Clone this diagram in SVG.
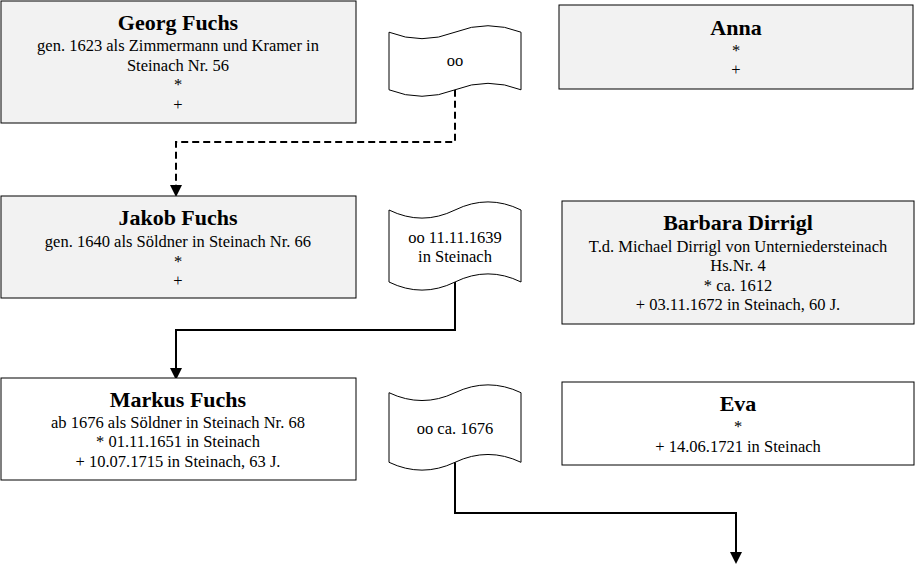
<svg xmlns="http://www.w3.org/2000/svg" width="916" height="575" viewBox="0 0 916 575">
<style>
.box{stroke:#000;stroke-width:1}
.g{fill:#f2f2f2}
.w{fill:#fff}
.flag{fill:#fff;stroke:#000;stroke-width:1}
text{font-family:"Liberation Serif","Times New Roman",serif;fill:#000;text-anchor:middle}
.n{font-size:22px;font-weight:bold}
.t{font-size:16.5px}
.c{fill:none;stroke:#000;stroke-width:2}
.d{stroke-dasharray:7 4}
</style>
<defs>
<marker id="arr" markerUnits="userSpaceOnUse" markerWidth="12" markerHeight="12" refX="0" refY="5" orient="auto" viewBox="0 0 10 10">
<path d="M0,0 L10,5 L0,10 Z" fill="#000"/>
</marker>
</defs>
<rect width="916" height="575" fill="#fff"/>
<g id="connectors">
<path class="c d" d="M455,89.8 V142 H176 V185" marker-end="url(#arr)"/>
<path class="c" d="M455,282 V330 H176 V368" marker-end="url(#arr)"/>
<path class="c" d="M455,462.3 V513 H736 V552" marker-end="url(#arr)"/>
</g>
<g id="georg">
<rect class="box g" x="1" y="1" width="355" height="122"/>
<text class="n" x="178" y="30">Georg Fuchs</text>
<text class="t" x="178" y="51">gen. 1623 als Zimmermann und Kramer in</text>
<text class="t" x="178" y="71">Steinach Nr. 56</text>
<text class="t" x="178" y="90">*</text>
<text class="t" x="178" y="110">+</text>
</g>
<g id="marriage1">
<path class="flag" d="M389,32.2 Q422,45.16 455,32.2 Q488,19.24 521,32.2 L521,89.8 Q488,76.84 455,89.8 Q422,102.76 389,89.8 Z"/>
<text class="t" x="455" y="66">oo</text>
</g>
<g id="anna">
<rect class="box g" x="559" y="5" width="354" height="84"/>
<text class="n" x="736" y="35">Anna</text>
<text class="t" x="736" y="55.5">*</text>
<text class="t" x="736" y="75">+</text>
</g>
<g id="jakob">
<rect class="box g" x="1" y="196" width="355" height="102"/>
<text class="n" x="178" y="225">Jakob Fuchs</text>
<text class="t" x="178" y="247">gen. 1640 als Söldner in Steinach Nr. 66</text>
<text class="t" x="178" y="266.5">*</text>
<text class="t" x="178" y="286">+</text>
</g>
<g id="marriage2">
<path class="flag" d="M389,210 Q422,226.2 455,210 Q488,193.8 521,210 L521,282 Q488,265.8 455,282 Q422,298.2 389,282 Z"/>
<text class="t" x="455" y="243">oo 11.11.1639</text>
<text class="t" x="455" y="262">in Steinach</text>
</g>
<g id="barbara">
<rect class="box g" x="562" y="201" width="352" height="123"/>
<text class="n" x="738" y="230">Barbara Dirrigl</text>
<text class="t" x="738" y="251.5">T.d. Michael Dirrigl von Unterniedersteinach</text>
<text class="t" x="738" y="271">Hs.Nr. 4</text>
<text class="t" x="738" y="290.5">* ca. 1612</text>
<text class="t" x="738" y="310">+ 03.11.1672 in Steinach, 60 J.</text>
</g>
<g id="markus">
<rect class="box w" x="1" y="378" width="355" height="102"/>
<text class="n" x="178" y="406.5">Markus Fuchs</text>
<text class="t" x="178" y="427.5">ab 1676 als Söldner in Steinach Nr. 68</text>
<text class="t" x="178" y="447">* 01.11.1651 in Steinach</text>
<text class="t" x="178" y="466.5">+ 10.07.1715 in Steinach, 63 J.</text>
</g>
<g id="marriage3">
<path class="flag" d="M389,392.7 Q422,408.36 455,392.7 Q488,377.04 521,392.7 L521,462.3 Q488,446.64 455,462.3 Q422,477.96 389,462.3 Z"/>
<text class="t" x="455" y="434">oo ca. 1676</text>
</g>
<g id="eva">
<rect class="box w" x="562" y="382" width="352" height="83"/>
<text class="n" x="738" y="411">Eva</text>
<text class="t" x="738" y="432">*</text>
<text class="t" x="738" y="451.5">+ 14.06.1721 in Steinach</text>
</g>
</svg>
